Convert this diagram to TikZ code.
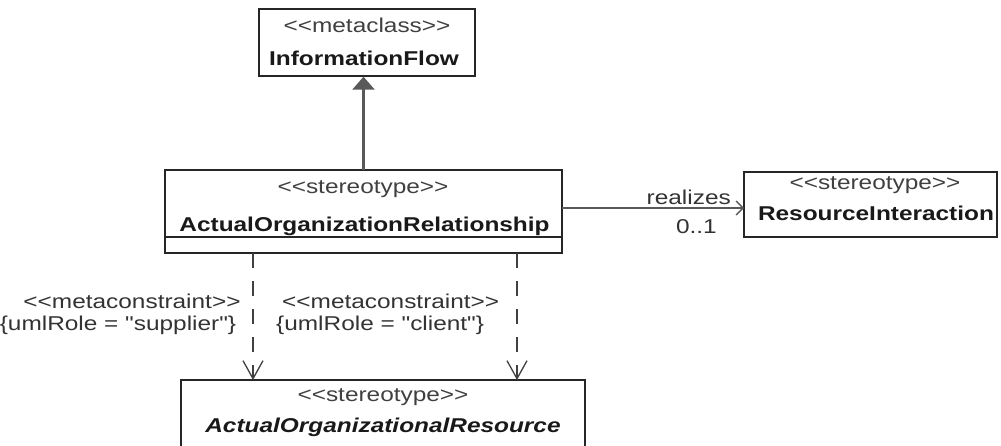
\documentclass[tikz,border=0pt]{standalone}
\usepackage{fontspec}
\setmainfont{Liberation Sans}[FakeStretch=1.22, Ligatures=TeXOff]
\usetikzlibrary{arrows.meta}
\begin{document}
\begin{tikzpicture}[x=1pt,y=-1pt,
  box/.style={draw=black!85, line width=1.4pt, inner sep=0pt, outer sep=0pt},
  st/.style={font=\fontsize{20}{24}\selectfont, text=black!75, anchor=base, inner sep=0pt},
  nm/.style={font=\fontsize{20}{24}\selectfont\bfseries, text=black!90, anchor=base, inner sep=0pt},
  lbl/.style={font=\fontsize{20}{24}\selectfont, text=black!80, inner sep=0pt},
  gen/.style={draw=black!65, line width=2.6pt, -{Triangle[width=22pt,length=13pt]}, shorten >=0.7pt},
  assoc/.style={draw=black!65, line width=1.3pt, -{Straight Barb[length=7pt,width=14pt,line width=1.3pt]}},
  dep/.style={draw=black!75, line width=1.3pt, dash pattern=on 15pt off 13pt, -{Straight Barb[length=18pt,width=20pt,line width=1.3pt]}}
]
\useasboundingbox (0,0) rectangle (1001,445);
\clip (0,0) rectangle (1001,445);
\fill[white] (0,0) rectangle (1001,445);

% boxes
\node[box, minimum width=216pt, minimum height=67pt] (IF) at (367,42.5) {};
\node[box, minimum width=397pt, minimum height=83pt] (AOR) at (363.5,211.5) {};
\draw[draw=black!85, line width=1.4pt] (AOR.west |- 0,237) -- (AOR.east |- 0,237);
\node[box, minimum width=253pt, minimum height=65pt] (RI) at (870.5,204.5) {};
\node[box, line width=1.8pt, minimum width=404pt, minimum height=90pt] (BR) at (383,425) {};

% texts in boxes
\node[st] (IFs) at (367,32) {<<metaclass>>};
\node[nm] (IFn) at (364,65) {InformationFlow};
\node[st] (AORs) at (363,193) {<<stereotype>>};
\node[nm] (AORn) at (364.5,231) {ActualOrganizationRelationship};
\node[st] (RIs) at (875,189) {<<stereotype>>};
\node[nm] (RIn) at (876,220) {ResourceInteraction};
\node[st] (BRs) at (383,401) {<<stereotype>>};
\node[nm, font=\fontsize{20}{24}\selectfont\bfseries\itshape] (BRn) at (383,432) {ActualOrganizationalResource};

% connectors
\coordinate (rl) at (0,208);
\coordinate (dl) at (253,0);
\coordinate (dr) at (517,0);
\draw[gen] (AOR.north) -- (AOR.north |- IF.south);
\draw[assoc] (AOR.east |- rl) -- (RI.west |- rl);
\draw[dep] (AOR.south -| dl) -- (BR.north -| dl);
\draw[dep] (AOR.south -| dr) -- (BR.north -| dr);

% connector labels
\node[lbl, anchor=base east] (real) at (731,204) {realizes};
\node[lbl, anchor=base east] (mult) at (717,233) {0..1};
\node[lbl, anchor=base] (mc1) at (132,308) {<<metaconstraint>>};
\node[lbl, anchor=base] (ur1) at (118,330) {\{umlRole = "supplier"\}};
\node[lbl, anchor=base west] (mc2) at (282,308) {<<metaconstraint>>};
\node[lbl, anchor=base west] (ur2) at (276,330) {\{umlRole = "client"\}};
\end{tikzpicture}
\end{document}
